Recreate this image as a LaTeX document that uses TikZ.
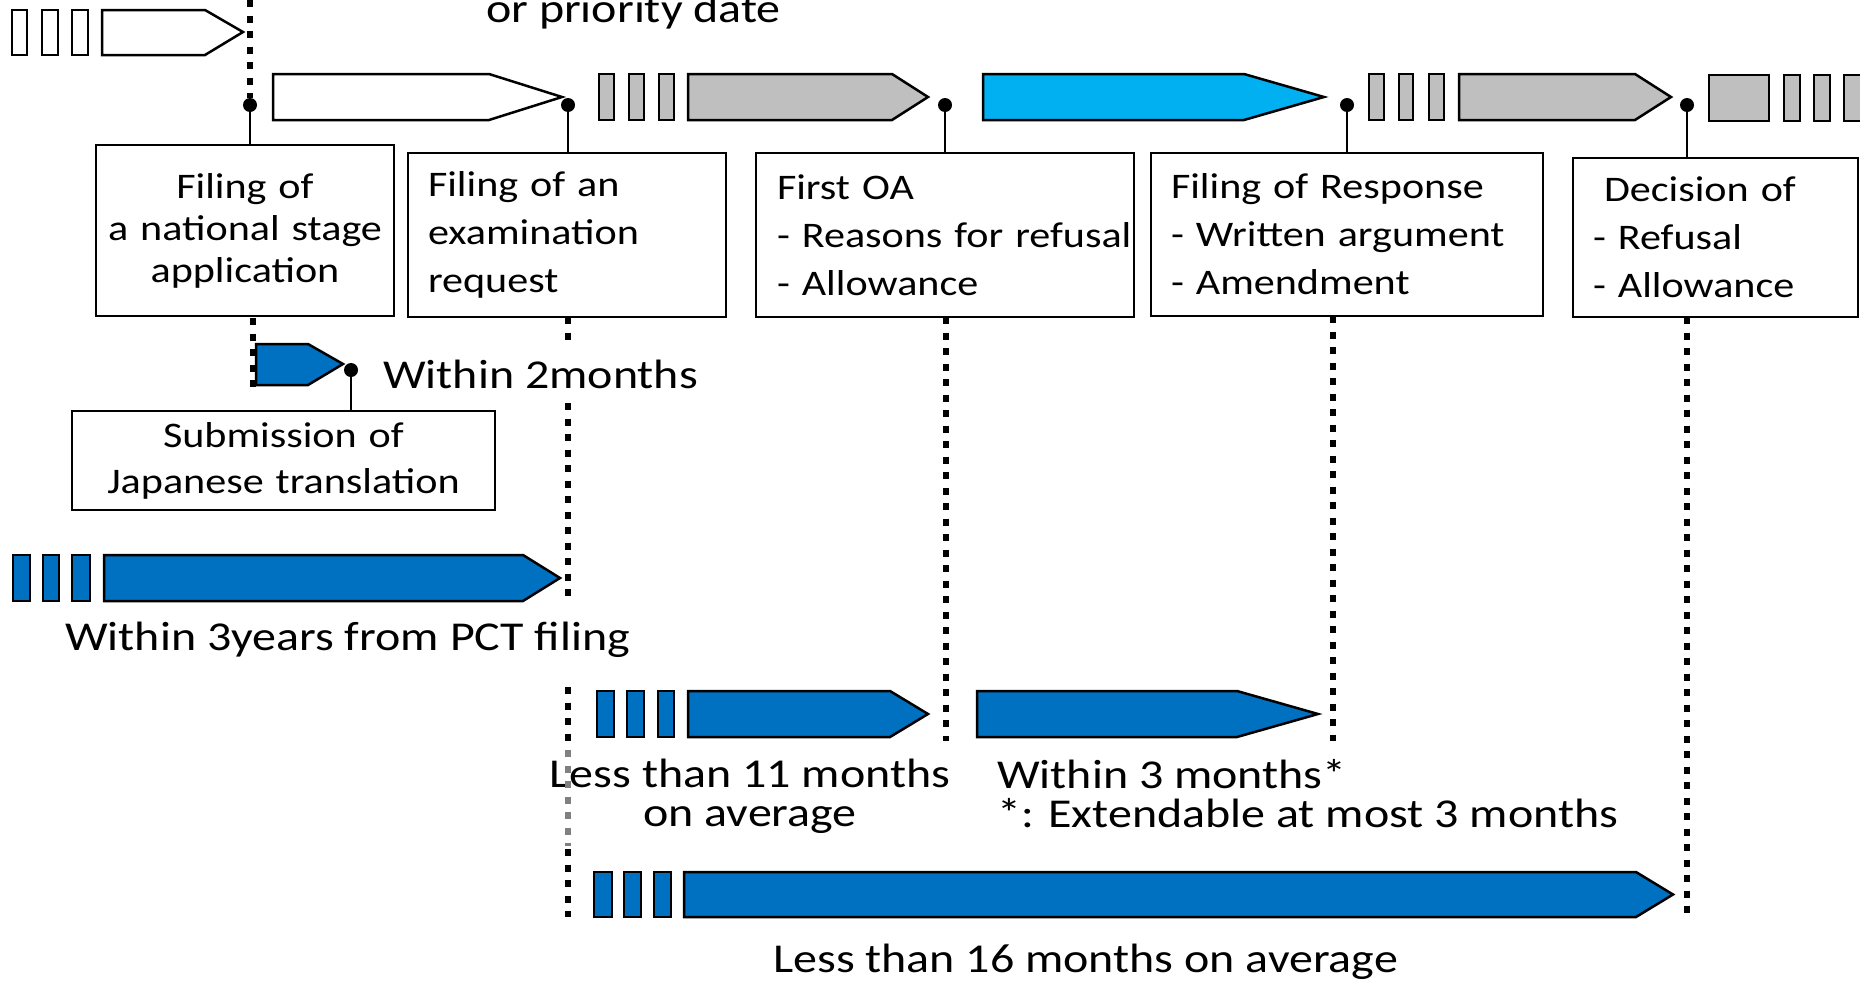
\documentclass[tikz,border=0pt]{standalone}
\usepackage{fontspec}
\setmainfont[FakeStretch=1.17]{Carlito}
\usetikzlibrary{positioning}

\definecolor{tlblue}{HTML}{0070C0}
\definecolor{tlcyan}{HTML}{00B0F0}
\definecolor{tlgray}{HTML}{BFBFBF}

\begin{document}
\begin{tikzpicture}[x=1pt, y=-1pt,
    every node/.style={font=\fontsize{36}{48}\selectfont},
    lbl/.style={font=\fontsize{41}{39}\selectfont, inner sep=0pt},
    tlbox/.style={draw, line width=2.5pt, inner ysep=0pt, align=left},
    tdot/.style={circle, fill, inner sep=0pt, minimum size=14pt},
    stem/.style={line width=2pt},
    guide/.style={line width=6.5pt, dash pattern=on 7pt off 8.5pt},
    wbar/.style={draw, line width=2.5pt, fill=white},
    gbar/.style={draw, line width=2.5pt, fill=tlgray},
    bbar/.style={draw, line width=2.5pt, fill=tlblue},
    cbar/.style={draw, line width=2.5pt, fill=tlcyan}]
  \useasboundingbox (0,0) rectangle (1860,980);

  % top row
  \foreach \a/\b in {12/27, 42/58, 72/88} \draw[wbar] (\a,10) rectangle (\b,55);
  \draw[wbar] (102,10) -- (205,10) -- (243,32) -- (205,55) -- (102,55) -- cycle;
  \node[lbl, anchor=base west] (prio) at (486,22) {or priority date};

  % main time line
  \draw[wbar] (273,74) -- (489,74) -- (562,97) -- (489,120) -- (273,120) -- cycle;
  \foreach \a/\b in {599/614, 629/644, 659/674} \draw[gbar] (\a,74) rectangle (\b,120);
  \draw[gbar] (688,74) -- (892,74) -- (928,97) -- (892,120) -- (688,120) -- cycle;
  \draw[cbar] (983,74) -- (1244,74) -- (1324,97) -- (1244,120) -- (983,120) -- cycle;
  \foreach \a/\b in {1369/1384, 1399/1413, 1429/1444} \draw[gbar] (\a,74) rectangle (\b,120);
  \draw[gbar] (1459,74) -- (1635,74) -- (1671,97) -- (1635,120) -- (1459,120) -- cycle;
  \foreach \a/\b in {1709/1769, 1784/1800, 1814/1830, 1844/1864} \draw[gbar] (\a,75) rectangle (\b,121);

  \node[tdot] (d1) at (250,105) {};
  \node[tdot] (d2) at (568,105) {};
  \node[tdot] (d3) at (945,105) {};
  \node[tdot] (d4) at (1347,105) {};
  \node[tdot] (d5) at (1687,105) {};

  % steps
  \node[tlbox, align=center, inner xsep=10pt, text width=278pt, minimum height=171pt,
    font=\fontsize{36}{42}\selectfont] (natl) at (245,230.5)
    {Filing of\\a national stage\\application};
  \node[tlbox, inner xsep=20pt, text width=278pt, minimum height=164pt] (exam) at (567,235)
    {Filing of an\\examination\\request};
  \node[tlbox, inner xsep=21pt, text width=336pt, minimum height=164pt] (foa) at (945,235)
    {First OA\\\mbox{- Reasons for refusal}\\- Allowance};
  \node[tlbox, inner xsep=20pt, text width=352pt, minimum height=163pt] (resp) at (1347,234.5)
    {Filing of Response\\- Written argument\\- Amendment};
  \node[tlbox, inner xsep=20pt, text width=245pt, minimum height=159pt] (dec) at (1715.5,237.5)
    {\hspace*{11pt}Decision of\\- Refusal\\- Allowance};

  \draw[stem] (d1) -- (d1 |- natl.north);
  \draw[stem] (d2) -- (d2 |- exam.north);
  \draw[stem] (d3) -- (d3 |- foa.north);
  \draw[stem] (d4) -- (d4 |- resp.north);
  \draw[stem] (d5) -- (d5 |- dec.north);

  % translation
  \draw[bbar] (256,344) -- (308,344) -- (343,364) -- (308,385) -- (256,385) -- cycle;
  \node[tdot] (d6) at (351,370) {};
  \node[tlbox, align=center, inner xsep=10pt, text width=403pt, minimum height=99pt,
    font=\fontsize{36}{46}\selectfont] (jpn) at (283.5,460.5)
    {Submission of\\Japanese translation};
  \draw[stem] (d6) -- (d6 |- jpn.north);
  \node[lbl, anchor=base west] (twom) at (383,388) {Within 2months};

  % periods
  \foreach \a/\b in {13/30, 43/59, 72/90} \draw[bbar] (\a,555) rectangle (\b,601);
  \draw[bbar] (104,555) -- (523,555) -- (560,578) -- (523,601) -- (104,601) -- cycle;
  \node[lbl, anchor=base west] (threey) at (65,650) {Within 3years from PCT filing};

  \foreach \a/\b in {597/614, 627/644, 658/674} \draw[bbar] (\a,691) rectangle (\b,737);
  \draw[bbar] (688,691) -- (890,691) -- (928,714) -- (890,737) -- (688,737) -- cycle;
  \draw[bbar] (977,691) -- (1237,691) -- (1318,714) -- (1237,737) -- (977,737) -- cycle;
  \node[lbl, align=center, anchor=north] (elev) at (750,759) {Less than 11 months\\on average};
  \node[lbl, align=left, anchor=north west] (thrm) at (997,759)
    {Within 3 months*\\*: Extendable at most 3 months};

  \foreach \a/\b in {594/612, 624/641, 654/671} \draw[bbar] (\a,872) rectangle (\b,917);
  \draw[bbar] (684,872) -- (1636,872) -- (1673,894.5) -- (1636,917) -- (684,917) -- cycle;
  \node[lbl, anchor=base west] (sixt) at (773,972) {Less than 16 months on average};

  % dotted guides
  \draw[guide] (250,0) -- (d1.north);
  \draw[guide] (253,318) -- (253,391);
  \draw[guide] (568,317) -- (568,340);
  \draw[guide] (568,403) -- (568,597);
  \draw[guide] (568,687) -- (568,747);
  \draw[guide, gray] (568,750) -- (568,846);
  \draw[guide] (568,849) -- (568,917);
  \draw[guide] (946,317) -- (946,741);
  \draw[guide] (1333,316) -- (1333,741);
  \draw[guide] (1687,317) -- (1687,917);
\end{tikzpicture}
\end{document}
